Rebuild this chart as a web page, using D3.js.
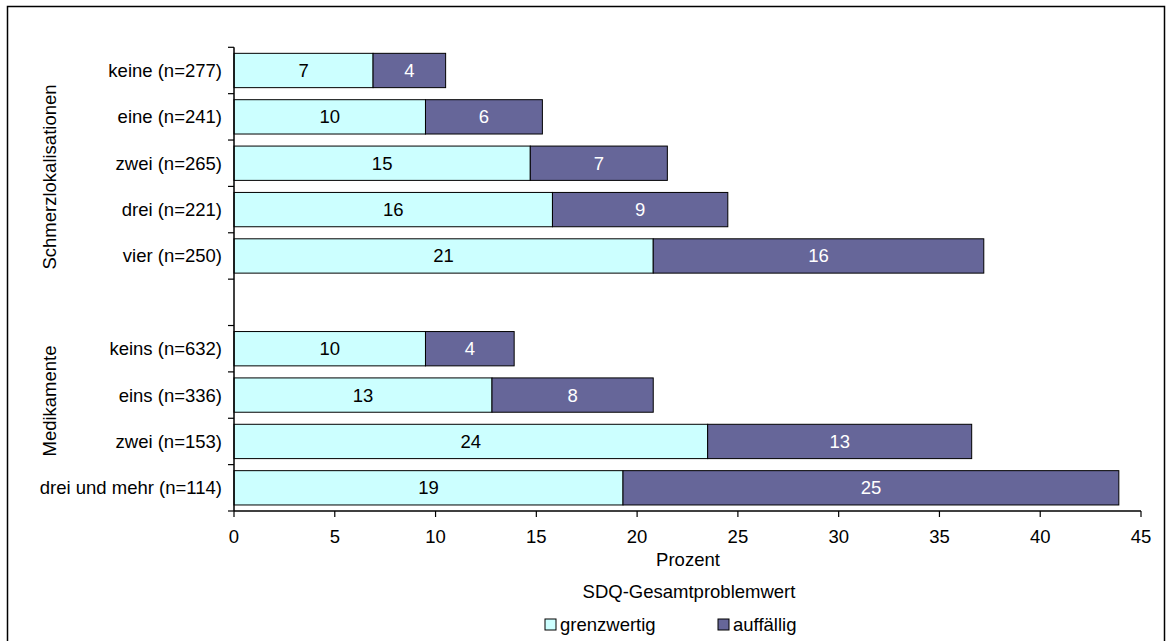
<!DOCTYPE html>
<html><head><meta charset="utf-8">
<script src="https://cdn.jsdelivr.net/npm/d3@7"></script>
<style>
html,body{margin:0;padding:0;background:#fff;}
svg text{font-family:"Liberation Sans",Arial,sans-serif;}
</style></head>
<body>
<svg id="chart" width="1171" height="641"></svg>
<script>
const categories = ["keine (n=277)", "eine (n=241)", "zwei (n=265)", "drei (n=221)", "vier (n=250)", "", "keins (n=632)", "eins (n=336)", "zwei (n=153)", "drei und mehr (n=114)"];
const grenzwertig = [6.9, 9.5, 14.7, 15.8, 20.8, null, 9.5, 12.8, 23.5, 19.3];
const auffaellig = [3.6, 5.8, 6.8, 8.7, 16.4, null, 4.4, 8.0, 13.1, 24.6];
const xTicks = [0, 5, 10, 15, 20, 25, 30, 35, 40, 45];
const seriesNames = ["grenzwertig", "auffällig"];
const groupLabels = ["Schmerzlokalisationen", "Medikamente"];
const colors = ["#CCFFFF", "#666699"];

const svg = d3.select("#chart");
const FS = 18.5;

// outer border
svg.append("rect").attr("x", 7.5).attr("y", 6.5).attr("width", 1157).attr("height", 640)
  .attr("fill", "none").attr("stroke", "#000").attr("stroke-width", 1.5);

const x = d3.scaleLinear().domain([0, 45]).range([234, 1141]);
const idx = d3.range(categories.length);
const y = d3.scaleBand().domain(idx).range([47.3, 511]).paddingInner(0.26).paddingOuter(0.13);

// bars
const rows = idx.filter(i => grenzwertig[i] != null);
const g = svg.append("g");
rows.forEach(i => {
  const segs = [[0, grenzwertig[i]], [grenzwertig[i], grenzwertig[i] + auffaellig[i]]];
  segs.forEach((s, k) => {
    g.append("rect")
      .attr("x", x(s[0])).attr("y", y(i))
      .attr("width", x(s[1]) - x(s[0])).attr("height", y.bandwidth())
      .attr("fill", colors[k]).attr("stroke", "#000").attr("stroke-width", 1);
    g.append("text")
      .attr("x", (x(s[0]) + x(s[1])) / 2).attr("y", y(i) + y.bandwidth() / 2)
      .attr("text-anchor", "middle").attr("dominant-baseline", "central")
      .attr("font-size", FS).attr("fill", k === 0 ? "#000" : "#fff")
      .text(Math.round(k === 0 ? grenzwertig[i] : auffaellig[i]));
  });
});

// y axis
const yAx = svg.append("g");
yAx.append("line").attr("x1", 234).attr("x2", 234).attr("y1", 47.3).attr("y2", 511).attr("stroke", "#000").attr("stroke-width", 1.5);
const step = y.step();
d3.range(categories.length + 1).forEach(j => {
  const yy = 47.3 + j * step;
  yAx.append("line").attr("x1", 228).attr("x2", 234).attr("y1", yy).attr("y2", yy).attr("stroke", "#000").attr("stroke-width", 1.2);
});
idx.forEach(i => {
  yAx.append("text").attr("x", 222).attr("y", y(i) + y.bandwidth() / 2)
    .attr("text-anchor", "end").attr("dominant-baseline", "central")
    .attr("font-size", FS).attr("fill", "#000").text(categories[i]);
});

// x axis
const xAx = svg.append("g").attr("transform", "translate(0,511)");
xAx.append("line").attr("x1", 234).attr("x2", 1141).attr("stroke", "#000").attr("stroke-width", 1.5);
xTicks.forEach(t => {
  xAx.append("line").attr("x1", x(t)).attr("x2", x(t)).attr("y1", 0).attr("y2", 6).attr("stroke", "#000").attr("stroke-width", 1.2);
  xAx.append("text").attr("x", x(t)).attr("y", 32).attr("text-anchor", "middle")
    .attr("font-size", FS).attr("fill", "#000").text(t);
});

svg.append("text").attr("x", 688).attr("y", 566).attr("text-anchor", "middle").attr("font-size", FS).text("Prozent");
svg.append("text").attr("x", 689).attr("y", 598).attr("text-anchor", "middle").attr("font-size", FS).text("SDQ-Gesamtproblemwert");

// group labels
svg.append("text").attr("transform", "translate(56,177) rotate(-90)").attr("text-anchor", "middle").attr("font-size", FS).text(groupLabels[0]);
svg.append("text").attr("transform", "translate(56,401) rotate(-90)").attr("text-anchor", "middle").attr("font-size", FS).text(groupLabels[1]);

// legend
const legX = [545, 718];
seriesNames.forEach((n, k) => {
  svg.append("rect").attr("x", legX[k]).attr("y", 619).attr("width", 11).attr("height", 11)
    .attr("fill", colors[k]).attr("stroke", "#000").attr("stroke-width", 1);
  svg.append("text").attr("x", legX[k] + 15).attr("y", 631).attr("font-size", FS).text(n);
});
</script>
</body></html>
